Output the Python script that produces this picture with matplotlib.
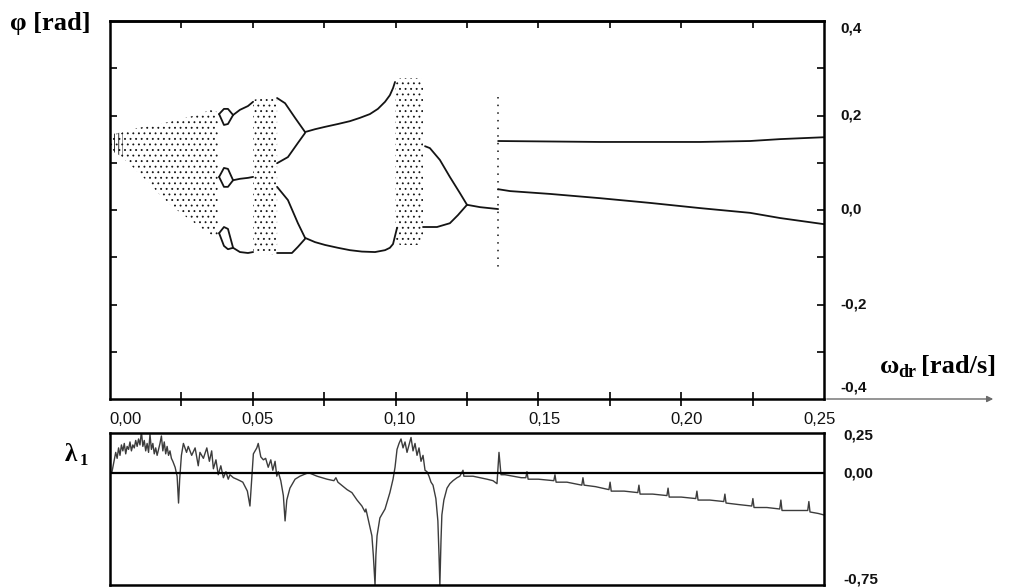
import matplotlib
matplotlib.use('Agg')
import matplotlib.pyplot as plt
from matplotlib.patches import FancyArrowPatch

plt.rcParams['font.family'] = ['Liberation Sans', 'DejaVu Sans']
plt.rcParams['hatch.color'] = '#1a1a1a'
plt.rcParams['hatch.linewidth'] = 0.6

# ---------------- data: bifurcation diagram (omega [rad/s], phi [rad]) -------------
# chaotic bands: x, lower envelope, upper envelope
chaos1_x = [0.0, 0.0018, 0.0053, 0.0098, 0.014, 0.0175, 0.0217, 0.0263, 0.0315, 0.035, 0.0378]
chaos1_lo = [0.131, 0.123, 0.106, 0.080, 0.055, 0.032, 0.008, -0.013, -0.036, -0.051, -0.063]
chaos1_hi = [0.159, 0.161, 0.165, 0.174, 0.178, 0.182, 0.188, 0.195, 0.203, 0.212, 0.207]
dense_x = [0.0, 0.002, 0.0045]
dense_lo = [0.128, 0.120, 0.112]
dense_hi = [0.160, 0.162, 0.165]
chaos2_x = [0.0501, 0.0543, 0.0585]
chaos2_lo = [-0.091, -0.093, -0.095]
chaos2_hi = [0.233, 0.239, 0.239]
chaos3_x = [0.0998, 0.1015, 0.1085, 0.1096]
chaos3_lo = [-0.063, -0.074, -0.074, -0.053]
chaos3_hi = [0.267, 0.279, 0.279, 0.275]

# period-3 window with bubbles
loop_x = [0.0382, 0.0399, 0.0413, 0.0431]
loop1_top = [0.203, 0.214, 0.214, 0.201]
loop1_bot = [0.203, 0.180, 0.182, 0.201]
loop2_top = [0.070, 0.089, 0.087, 0.063]
loop2_bot = [0.070, 0.049, 0.049, 0.063]
loop3_top = [-0.049, -0.036, -0.040, -0.080]
loop3_bot = [-0.049, -0.076, -0.083, -0.080]
p3_x = [0.0431, 0.0455, 0.0483, 0.0501]
p3_a = [0.201, 0.212, 0.220, 0.229]
p3_b = [0.063, 0.066, 0.068, 0.070]
p3_c = [-0.080, -0.089, -0.091, -0.089]

# period-4 / period-2 section
p4_x1 = [0.0585, 0.0613, 0.0648, 0.0683]
p4_a = [0.237, 0.226, 0.195, 0.165]
p4_x2 = [0.0585, 0.0623, 0.0658, 0.0683]
p4_b = [0.099, 0.112, 0.142, 0.163]
p4_c = [0.049, 0.021, -0.028, -0.059]
p4_x3 = [0.0585, 0.0637, 0.0658, 0.0683]
p4_d = [-0.091, -0.091, -0.078, -0.061]
p2_up_x = [0.0683, 0.0718, 0.0753, 0.0798, 0.0840, 0.0875, 0.0910, 0.0938, 0.0963, 0.0980, 0.0991, 0.0998]
p2_up = [0.165, 0.171, 0.176, 0.182, 0.188, 0.195, 0.203, 0.214, 0.229, 0.243, 0.258, 0.271]
p2_lo_x = [0.0683, 0.0718, 0.0753, 0.0798, 0.0840, 0.0882, 0.0928, 0.0963, 0.0980, 0.0991, 0.0998, 0.1005]
p2_lo = [-0.059, -0.068, -0.074, -0.080, -0.085, -0.088, -0.089, -0.085, -0.080, -0.072, -0.055, -0.038]

# period-2 -> period-1 after the third chaotic band
q2_up_x = [0.1103, 0.112, 0.1155, 0.119, 0.1225, 0.125]
q2_up = [0.135, 0.131, 0.106, 0.070, 0.036, 0.011]
q2_lo_x = [0.1096, 0.1145, 0.119, 0.1218, 0.125]
q2_lo = [-0.036, -0.036, -0.028, -0.011, 0.011]
q1_x = [0.125, 0.1296, 0.1359]
q1 = [0.011, 0.006, 0.002]

# transient scatter at the jump
jump_x = [0.1358, 0.1358]
jump_y = [0.239, -0.121]

# final period-2 attractor
r_up_x = [0.1359, 0.1541, 0.1716, 0.1891, 0.2066, 0.2241, 0.2346, 0.25]
r_up = [0.146, 0.145, 0.144, 0.144, 0.144, 0.146, 0.150, 0.154]
r_lo_x = [0.1359, 0.1401, 0.1541, 0.1716, 0.1891, 0.2066, 0.2241, 0.2346, 0.25]
r_lo = [0.044, 0.040, 0.034, 0.025, 0.015, 0.004, -0.006, -0.017, -0.030]

# ---------------- data: largest Lyapunov exponent -------------
lam_w = [0.0000, 0.0007, 0.0014, 0.0020, 0.0025, 0.0030, 0.0035, 0.0040, 0.0045, 0.0050,
         0.0055, 0.0060, 0.0065, 0.0070, 0.0075, 0.0080, 0.0085, 0.0090, 0.0095, 0.0100,
         0.0105, 0.0110, 0.0115, 0.0120, 0.0125, 0.0130, 0.0135, 0.0140, 0.0145, 0.0150,
         0.0155, 0.0160, 0.0165, 0.0170, 0.0175, 0.0180, 0.0185, 0.0190, 0.0195, 0.0200,
         0.0205, 0.0210, 0.0215, 0.0220, 0.0228, 0.0235, 0.0240, 0.0244, 0.0250,
         0.0257, 0.0268, 0.0274, 0.0286, 0.0298, 0.0309, 0.0315, 0.0327, 0.0339, 0.0348,
         0.0356, 0.0362, 0.0371, 0.0379, 0.0388, 0.0397, 0.0406, 0.0414, 0.0420, 0.0432,
         0.0444, 0.0455, 0.0465, 0.0473, 0.0481, 0.0490, 0.0496, 0.0502, 0.0514, 0.0519,
         0.0528, 0.0537, 0.0545, 0.0554, 0.0563, 0.0570, 0.0578, 0.0584, 0.0589, 0.0598,
         0.0607, 0.0613, 0.0619, 0.0630, 0.0648, 0.0665,
         0.0690, 0.0700, 0.0725, 0.0760, 0.0784, 0.0791, 0.0798, 0.0830, 0.0847, 0.0865,
         0.0882, 0.0893, 0.0896, 0.0903, 0.0910, 0.0917, 0.0922, 0.0928, 0.0931, 0.0935,
         0.0945, 0.0963, 0.0980, 0.0991, 0.0998,
         0.1005, 0.1012, 0.1019, 0.1026, 0.1033, 0.1040, 0.1047, 0.1054, 0.1061, 0.1068,
         0.1075, 0.1082, 0.1089, 0.1096, 0.1103, 0.1110, 0.1117, 0.1124, 0.1131, 0.1141,
         0.1148, 0.1152, 0.1155, 0.1159, 0.1162, 0.1169, 0.1180, 0.1190, 0.1201, 0.1215,
         0.1225, 0.1236, 0.1239, 0.1250, 0.1271, 0.1296, 0.1320, 0.1341, 0.1355, 0.1362,
         0.1366, 0.1369, 0.1383, 0.1411,
         0.1440, 0.1456, 0.1460, 0.1464, 0.1500, 0.1554, 0.1558, 0.1562, 0.1600, 0.1652,
         0.1656, 0.1660, 0.1700, 0.1747, 0.1751, 0.1755, 0.1800, 0.1848, 0.1852, 0.1856,
         0.1900, 0.1950, 0.1954, 0.1958, 0.2000, 0.2051, 0.2055, 0.2059, 0.2100, 0.2149,
         0.2153, 0.2157, 0.2200, 0.2247, 0.2251, 0.2255, 0.2300, 0.2345, 0.2349, 0.2353,
         0.2400, 0.2443, 0.2447, 0.2451, 0.2480, 0.2500]
lam_v = [0.00, 0.01, 0.08, 0.14, 0.10, 0.17, 0.12, 0.19, 0.15, 0.20,
         0.13, 0.18, 0.16, 0.21, 0.15, 0.19, 0.17, 0.22, 0.18, 0.23,
         0.19, 0.28, 0.18, 0.22, 0.15, 0.20, 0.14, 0.26, 0.16, 0.20,
         0.13, 0.17, 0.12, 0.16, 0.20, 0.25, 0.15, 0.21, 0.13, 0.18,
         0.12, 0.15, 0.10, 0.08, 0.04, -0.02, -0.20, -0.04, 0.12,
         0.20, 0.14, 0.18, 0.12, 0.17, 0.05, 0.14, 0.10, 0.17, 0.08,
         0.15, 0.03, 0.09, -0.01, 0.05, -0.03, 0.01, -0.04, -0.01, -0.03,
         -0.04, -0.05, -0.06, -0.09, -0.12, -0.22, -0.04, 0.13, 0.17, 0.20,
         0.11, 0.09, 0.10, 0.04, 0.09, 0.02, 0.08, -0.02, 0.01, -0.05,
         -0.15, -0.32, -0.18, -0.10, -0.04, -0.02,
         0.00, 0.00, -0.02, -0.04, -0.05, -0.03, -0.06, -0.11, -0.13, -0.18,
         -0.22, -0.26, -0.24, -0.30, -0.36, -0.42, -0.55, -0.75, -0.55, -0.42,
         -0.30, -0.24, -0.13, -0.04, 0.04,
         0.16, 0.20, 0.23, 0.17, 0.21, 0.14, 0.19, 0.24, 0.15, 0.20,
         0.12, 0.17, 0.08, 0.12, 0.02, 0.01, -0.02, -0.06, -0.08, -0.17,
         -0.32, -0.55, -0.75, -0.45, -0.28, -0.18, -0.10, -0.07, -0.05, -0.03,
         -0.02, 0.02, -0.02, -0.02, -0.02, -0.03, -0.04, -0.05, -0.07, 0.14,
         0.05, -0.01, -0.01, -0.02,
         -0.03, -0.03, 0.01, -0.04, -0.04, -0.05, -0.01, -0.06, -0.06, -0.08,
         -0.03, -0.08, -0.09, -0.11, -0.06, -0.12, -0.12, -0.13, -0.08, -0.14,
         -0.14, -0.15, -0.10, -0.16, -0.16, -0.17, -0.12, -0.18, -0.18, -0.19,
         -0.14, -0.20, -0.21, -0.22, -0.17, -0.23, -0.23, -0.24, -0.18, -0.25,
         -0.25, -0.25, -0.19, -0.26, -0.27, -0.28]

# ---------------- axis texts -------------
x_tick_vals = [0.00, 0.05, 0.10, 0.15, 0.20, 0.25]
x_tick_text = ['0,00', '0,05', '0,10', '0,15', '0,20', '0,25']
x_minor = [0.025, 0.05, 0.075, 0.10, 0.125, 0.15, 0.175, 0.20, 0.225]
phi_tick_vals = [0.3, 0.2, 0.1, 0.0, -0.1, -0.2, -0.3]
phi_lab_vals = [0.4, 0.2, 0.0, -0.2, -0.4]
phi_lab_text = ['0,4', '0,2', '0,0', '-0,2', '-0,4']
lam_lab_vals = [0.25, 0.0, -0.75]
lam_lab_text = ['0,25', '0,00', '-0,75']

# ---------------- figure -------------
W, H = 1010, 587
fig = plt.figure(figsize=(W / 100, H / 100), dpi=100)


def fx(px):
    return px / W


def fy(py):
    return 1 - py / H


ax = fig.add_axes([fx(110), fy(399), fx(824) - fx(110), fy(21) - fy(399)])
ax2 = fig.add_axes([fx(110), fy(585), fx(824) - fx(110), fy(433) - fy(585)])

ink = '#141414'
# chaotic bands
for bx, lo, hi, hatch in [(chaos1_x, chaos1_lo, chaos1_hi, '...'),
                          (dense_x, dense_lo, dense_hi, '||||'),
                          (chaos2_x, chaos2_lo, chaos2_hi, '...'),
                          (chaos3_x, chaos3_lo, chaos3_hi, '...')]:
    ax.fill_between(bx, lo, hi, facecolor='none', edgecolor=ink, linewidth=0, hatch=hatch)

lw = 1.3
for bx, by in [(loop_x, loop1_top), (loop_x, loop1_bot), (loop_x, loop2_top), (loop_x, loop2_bot),
               (loop_x, loop3_top), (loop_x, loop3_bot), (p3_x, p3_a), (p3_x, p3_b), (p3_x, p3_c),
               (p4_x1, p4_a), (p4_x2, p4_b), (p4_x2, p4_c), (p4_x3, p4_d),
               (p2_up_x, p2_up), (p2_lo_x, p2_lo), (q2_up_x, q2_up), (q2_lo_x, q2_lo),
               (q1_x, q1), (r_up_x, r_up), (r_lo_x, r_lo)]:
    ax.plot(bx, by, color=ink, lw=lw, solid_capstyle='round', solid_joinstyle='round')
ax.plot(jump_x, jump_y, color=ink, lw=1.1, linestyle=(0, (1, 4)))

ax.set_xlim(0, 0.25)
ax.set_ylim(-0.4, 0.4)
ax.set_xticks(x_minor)
ax.set_xticklabels([])
ax.tick_params(axis='x', direction='inout', length=10, width=1.2, bottom=True, top=False)
ax.set_yticks(phi_tick_vals)
ax.set_yticklabels([])
ax.tick_params(axis='y', direction='in', length=5, width=1.2, left=True, right=True)
sec = ax.secondary_xaxis('top')
sec.set_xticks(x_minor)
sec.set_xticklabels([])
sec.tick_params(direction='in', length=5, width=1.2)
for s in list(ax.spines.values()) + list(sec.spines.values()):
    s.set_linewidth(1.8)
    s.set_color('black')

# x tick labels between the panels
x_lab_shift = [0.0056, 0.0018, 0.0014, 0.0021, 0.0018, -0.0014]
xtr = ax.get_xaxis_transform()
for v, t, d in zip(x_tick_vals, x_tick_text, x_lab_shift):
    ax.text(v + d, -0.055, t, transform=xtr, ha='center', va='center', fontsize=12, color='#111111')

ytr = ax.get_yaxis_transform()
phi_shift = [-0.015, 0.0, 0.0, 0.0, 0.024]
for v, t, d in zip(phi_lab_vals, phi_lab_text, phi_shift):
    ax.text(1.0224, v + d, t, transform=ytr, ha='left', va='center', fontsize=11, fontweight='bold',
            color='#111111')

# Lyapunov panel
ax2.axhline(0, color='black', lw=1.6, zorder=3)
ax2.plot(lam_w, lam_v, color='#3c3c3c', lw=1.0)
ax2.set_xlim(0, 0.25)
ax2.set_ylim(-0.75, 0.27)
ax2.set_xticks([])
ax2.set_yticks([])
for s in ax2.spines.values():
    s.set_linewidth(1.8)
    s.set_color('black')
ytr2 = ax2.get_yaxis_transform()
lam_shift = [0.0, 0.0, 0.04]
for v, t, d in zip(lam_lab_vals, lam_lab_text, lam_shift):
    ax2.text(1.0266, v + d, t, transform=ytr2, ha='left', va='center', fontsize=11, fontweight='bold',
             color='#111111')

# axis titles
serif = ['Liberation Serif', 'DejaVu Serif']
fig.text(fx(10), fy(30), 'φ [rad]', family=serif, fontweight='bold', fontsize=19, ha='left', va='baseline')
fig.text(fx(880), fy(373), 'ω', family=serif, fontweight='bold', fontsize=19, ha='left', va='baseline')
fig.text(fx(898), fy(377), 'dr', family=serif, fontweight='bold', fontsize=13, ha='left', va='baseline')
fig.text(fx(921), fy(373), '[rad/s]', family=serif, fontweight='bold', fontsize=19, ha='left', va='baseline')
fig.text(fx(65), fy(461), 'λ', family=serif, fontweight='bold', fontsize=18, ha='left', va='baseline')
fig.text(fx(80), fy(465), '1', family=serif, fontweight='bold', fontsize=12, ha='left', va='baseline')

# x-axis arrow
arr = FancyArrowPatch((fx(824), fy(399)), (fx(996), fy(399)), transform=fig.transFigure,
                      arrowstyle='-|>', mutation_scale=9, color='#6a6a6a', lw=1.0)
fig.add_artist(arr)

fig.savefig('out.png', dpi=100)
